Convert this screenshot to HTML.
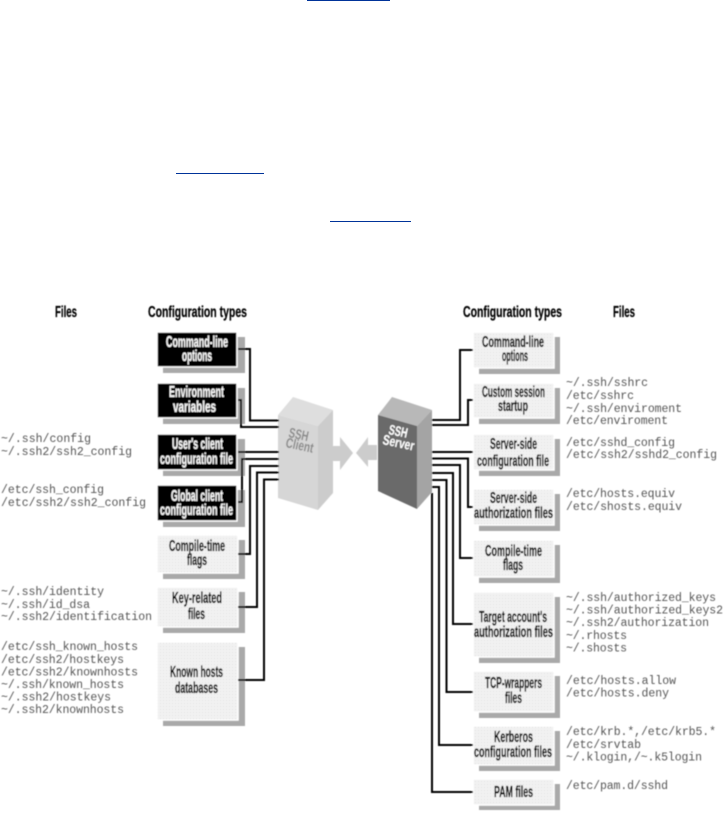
<!DOCTYPE html>
<html>
<head>
<meta charset="utf-8">
<title>SSH configuration types and files</title>
<style>
html,body{margin:0;padding:0;background:#fff;width:724px;height:814px;overflow:hidden}
svg{display:block;position:absolute;left:0;top:0}
.l{font-family:"Liberation Sans Narrow","Liberation Sans",sans-serif;font-weight:bold;font-size:15.5px;fill:#000;stroke:#000;stroke-width:0.25}
.w{fill:#f8f8f8;stroke:#f8f8f8}
.h{font-family:"Liberation Sans Narrow","Liberation Sans",sans-serif;font-weight:bold;font-size:16px;fill:#000;stroke:#000;stroke-width:0.25}
.m{font-family:"Liberation Mono",monospace;font-size:11.5px;fill:#555}
.c{fill:none;stroke:#000;stroke-width:2}
.s{fill:#a9a9a9}
.b{fill:#000}
.g{fill:url(#dots)}
</style>
</head>
<body>
<svg width="724" height="814" viewBox="0 0 724 814" xmlns="http://www.w3.org/2000/svg">
<defs>
<pattern id="dots" width="3" height="3" patternUnits="userSpaceOnUse">
<rect width="3" height="3" fill="#f2f2f2"/>
<rect x="1" y="1" width="1" height="1" fill="#dedede"/>
</pattern>
<filter id="bl" x="-2%" y="-2%" width="104%" height="104%"><feGaussianBlur stdDeviation="0.45"/></filter>
</defs>

<rect x="307" y="0" width="83" height="1" fill="#003399"/>
<rect x="176" y="173" width="88" height="1" fill="#003399"/>
<rect x="330" y="221" width="81" height="1" fill="#003399"/>

<g filter="url(#bl)">
<!-- headers -->
<text class="h" x="55" y="317" textLength="22" lengthAdjust="spacingAndGlyphs">Files</text>
<text class="h" x="148" y="317" textLength="99" lengthAdjust="spacingAndGlyphs">Configuration types</text>
<text class="h" x="463" y="317" textLength="99" lengthAdjust="spacingAndGlyphs">Configuration types</text>
<text class="h" x="613" y="317" textLength="22" lengthAdjust="spacingAndGlyphs">Files</text>

<!-- client shadows -->
<rect class="s" x="163" y="337" width="82" height="36"/>
<rect class="s" x="163" y="388" width="82" height="36"/>
<rect class="s" x="163" y="439" width="82" height="37"/>
<rect class="s" x="163" y="490" width="82" height="37"/>
<rect class="s" x="163" y="540" width="82" height="39"/>
<rect class="s" x="163" y="592" width="82" height="41"/>
<rect class="s" x="163" y="647" width="82" height="79"/>

<!-- client boxes -->
<g stroke="#fff" stroke-width="1.5">
<rect class="b" x="157" y="332" width="80" height="35"/>
<rect class="b" x="157" y="383" width="80" height="35"/>
<rect class="b" x="157" y="434" width="80" height="36"/>
<rect class="b" x="157" y="485" width="80" height="36"/>
<rect class="g" x="157" y="535" width="81" height="38"/>
<rect class="g" x="157" y="587" width="81" height="40"/>
<rect class="g" x="157" y="642" width="81" height="78"/>
</g>

<!-- server shadows -->
<rect class="s" x="479" y="337" width="81" height="37"/>
<rect class="s" x="479" y="388" width="81" height="36"/>
<rect class="s" x="479" y="439" width="81" height="37"/>
<rect class="s" x="479" y="494" width="81" height="37"/>
<rect class="s" x="479" y="545" width="81" height="38"/>
<rect class="s" x="479" y="597" width="81" height="66"/>
<rect class="s" x="479" y="676" width="81" height="42"/>
<rect class="s" x="479" y="731" width="81" height="40"/>
<rect class="s" x="479" y="784" width="81" height="26"/>

<!-- server boxes -->
<g stroke="#fff" stroke-width="1.5">
<rect class="g" x="473" y="332" width="81" height="36"/>
<rect class="g" x="473" y="383" width="81" height="35"/>
<rect class="g" x="473" y="434" width="81" height="36"/>
<rect class="g" x="473" y="489" width="81" height="36"/>
<rect class="g" x="473" y="540" width="81" height="37"/>
<rect class="g" x="473" y="592" width="81" height="65"/>
<rect class="g" x="473" y="671" width="81" height="41"/>
<rect class="g" x="473" y="726" width="81" height="39"/>
<rect class="g" x="473" y="779" width="81" height="26"/>
</g>

<!-- client tower -->
<polygon points="278,415 293,397 333,410 318,426" fill="#dedede"/>
<polygon points="278,415 318,426 318,510 278,498" fill="#d6d6d6"/>
<polygon points="318,426 333,410 333,493 318,510" fill="#cccccc"/>
<g font-family="Liberation Sans Narrow,Liberation Sans,sans-serif" font-weight="bold" font-size="14" fill="#8a8a8a">
<text transform="translate(288,437) rotate(12)" textLength="20" lengthAdjust="spacingAndGlyphs">SSH</text>
<text transform="translate(285,447) rotate(12)" textLength="28" lengthAdjust="spacingAndGlyphs">Client</text>
</g>

<!-- server tower -->
<polygon points="378,415 392,397 432,410 417,426" fill="#b8b8b8"/>
<polygon points="378,415 417,426 417,509 378,491" fill="#6a6a6a"/>
<polygon points="417,426 432,410 432,492 417,509" fill="#a4a4a4"/>
<g font-family="Liberation Sans Narrow,Liberation Sans,sans-serif" font-weight="bold" font-size="14" fill="#fff">
<text transform="translate(388,434) rotate(12)" textLength="19" lengthAdjust="spacingAndGlyphs">SSH</text>
<text transform="translate(382,444) rotate(12)" textLength="32" lengthAdjust="spacingAndGlyphs">Server</text>
</g>

<!-- arrows -->
<polygon points="333,446 340,446 340,437 353,453 340,470 340,461 333,461" fill="#cccccc"/>
<polygon points="377,445 368,445 368,437 356,453 368,467 368,460 377,460" fill="#cccccc"/>

<!-- client connectors -->
<path class="c" d="M238 349H250V420.5H279"/>
<path class="c" d="M238 400H241V427H279"/>
<path class="c" d="M238 452H279"/>
<path class="c" d="M238 502H242V459H279"/>
<path class="c" d="M238 554H250V466H279"/>
<path class="c" d="M238 607H257V472.5H279"/>
<path class="c" d="M238 680H264V479.5H279"/>

<!-- server connectors -->
<path class="c" d="M473 350H460V420H432"/>
<path class="c" d="M473 400H468V425H432"/>
<path class="c" d="M473 452H432"/>
<path class="c" d="M473 507H468V458.5H432"/>
<path class="c" d="M473 558H460V465H432"/>
<path class="c" d="M473 624H453V473H432"/>
<path class="c" d="M473 692H446.5V480H432"/>
<path class="c" d="M473 745H439V487H432"/>
<path class="c" d="M473 792H432V493"/>

<!-- client labels -->
<text class="l w" x="166" y="347" textLength="62" lengthAdjust="spacingAndGlyphs">Command-line</text>
<text class="l w" x="182" y="361" textLength="30" lengthAdjust="spacingAndGlyphs">options</text>
<text class="l w" x="169" y="397" textLength="55" lengthAdjust="spacingAndGlyphs">Environment</text>
<text class="l w" x="173" y="412" textLength="43" lengthAdjust="spacingAndGlyphs">variables</text>
<text class="l w" x="172" y="449" textLength="51" lengthAdjust="spacingAndGlyphs">User's client</text>
<text class="l w" x="160" y="464" textLength="73" lengthAdjust="spacingAndGlyphs">configuration file</text>
<text class="l w" x="171" y="501" textLength="52" lengthAdjust="spacingAndGlyphs">Global client</text>
<text class="l w" x="160" y="515" textLength="73" lengthAdjust="spacingAndGlyphs">configuration file</text>
<text class="l" x="169" y="551" textLength="56" lengthAdjust="spacingAndGlyphs">Compile-time</text>
<text class="l" x="187" y="565" textLength="20" lengthAdjust="spacingAndGlyphs">flags</text>
<text class="l" x="172" y="603" textLength="50" lengthAdjust="spacingAndGlyphs">Key-related</text>
<text class="l" x="188" y="619" textLength="17" lengthAdjust="spacingAndGlyphs">files</text>
<text class="l" x="170" y="677" textLength="53" lengthAdjust="spacingAndGlyphs">Known hosts</text>
<text class="l" x="175" y="693" textLength="43" lengthAdjust="spacingAndGlyphs">databases</text>

<!-- server labels -->
<text class="l" x="482" y="347" textLength="62" lengthAdjust="spacingAndGlyphs">Command-line</text>
<text class="l" x="502" y="361" textLength="26" lengthAdjust="spacingAndGlyphs">options</text>
<text class="l" x="482" y="397" textLength="63" lengthAdjust="spacingAndGlyphs">Custom session</text>
<text class="l" x="498" y="411" textLength="30" lengthAdjust="spacingAndGlyphs">startup</text>
<text class="l" x="490" y="449" textLength="47" lengthAdjust="spacingAndGlyphs">Server-side</text>
<text class="l" x="477" y="466" textLength="72" lengthAdjust="spacingAndGlyphs">configuration file</text>
<text class="l" x="490" y="503" textLength="47" lengthAdjust="spacingAndGlyphs">Server-side</text>
<text class="l" x="474" y="518" textLength="79" lengthAdjust="spacingAndGlyphs">authorization files</text>
<text class="l" x="485" y="556" textLength="57" lengthAdjust="spacingAndGlyphs">Compile-time</text>
<text class="l" x="503" y="570" textLength="20" lengthAdjust="spacingAndGlyphs">flags</text>
<text class="l" x="479" y="622" textLength="68" lengthAdjust="spacingAndGlyphs">Target account's</text>
<text class="l" x="474" y="637" textLength="79" lengthAdjust="spacingAndGlyphs">authorization files</text>
<text class="l" x="485" y="688" textLength="57" lengthAdjust="spacingAndGlyphs">TCP-wrappers</text>
<text class="l" x="505" y="703" textLength="17" lengthAdjust="spacingAndGlyphs">files</text>
<text class="l" x="494" y="742" textLength="39" lengthAdjust="spacingAndGlyphs">Kerberos</text>
<text class="l" x="474" y="757" textLength="78" lengthAdjust="spacingAndGlyphs">configuration files</text>
<text class="l" x="494" y="797" textLength="39" lengthAdjust="spacingAndGlyphs">PAM files</text>

<!-- left file lists -->
<g class="m">
<text class="m" x="1" y="442" textLength="90">~/.ssh/config</text>
<text class="m" x="1" y="455" textLength="131">~/.ssh2/ssh2_config</text>
<text class="m" x="1" y="493" textLength="103">/etc/ssh_config</text>
<text class="m" x="1" y="506" textLength="145">/etc/ssh2/ssh2_config</text>
<text class="m" x="1" y="595" textLength="103">~/.ssh/identity</text>
<text class="m" x="1" y="608" textLength="89">~/.ssh/id_dsa</text>
<text class="m" x="1" y="620" textLength="151">~/.ssh2/identification</text>
<text class="m" x="1" y="650" textLength="137">/etc/ssh_known_hosts</text>
<text class="m" x="1" y="663" textLength="123">/etc/ssh2/hostkeys</text>
<text class="m" x="1" y="675.5" textLength="137">/etc/ssh2/knownhosts</text>
<text class="m" x="1" y="688" textLength="123">~/.ssh/known_hosts</text>
<text class="m" x="1" y="700.5" textLength="110">~/.ssh2/hostkeys</text>
<text class="m" x="1" y="713" textLength="123">~/.ssh2/knownhosts</text>
</g>

<!-- right file lists -->
<g class="m">
<text class="m" x="566" y="386" textLength="82">~/.ssh/sshrc</text>
<text class="m" x="566" y="399" textLength="68">/etc/sshrc</text>
<text class="m" x="566" y="412" textLength="116">~/.ssh/enviroment</text>
<text class="m" x="566" y="424" textLength="102">/etc/enviroment</text>
<text class="m" x="566" y="446" textLength="109">/etc/sshd_config</text>
<text class="m" x="566" y="458" textLength="151">/etc/ssh2/sshd2_config</text>
<text class="m" x="566" y="497" textLength="109">/etc/hosts.equiv</text>
<text class="m" x="566" y="510" textLength="116">/etc/shosts.equiv</text>
<text class="m" x="566" y="601" textLength="150">~/.ssh/authorized_keys</text>
<text class="m" x="566" y="613.5" textLength="157">~/.ssh/authorized_keys2</text>
<text class="m" x="566" y="626" textLength="143">~/.ssh2/authorization</text>
<text class="m" x="566" y="639" textLength="61">~/.rhosts</text>
<text class="m" x="566" y="651.5" textLength="61">~/.shosts</text>
<text class="m" x="566" y="684" textLength="110">/etc/hosts.allow</text>
<text class="m" x="566" y="696.5" textLength="103">/etc/hosts.deny</text>
<text class="m" x="566" y="735" textLength="150">/etc/krb.*,/etc/krb5.*</text>
<text class="m" x="566" y="748" textLength="75">/etc/srvtab</text>
<text class="m" x="566" y="760.5" textLength="136">~/.klogin,/~.k5login</text>
<text class="m" x="566" y="789" textLength="102">/etc/pam.d/sshd</text>
</g>
</g>
</svg>
</body>
</html>
